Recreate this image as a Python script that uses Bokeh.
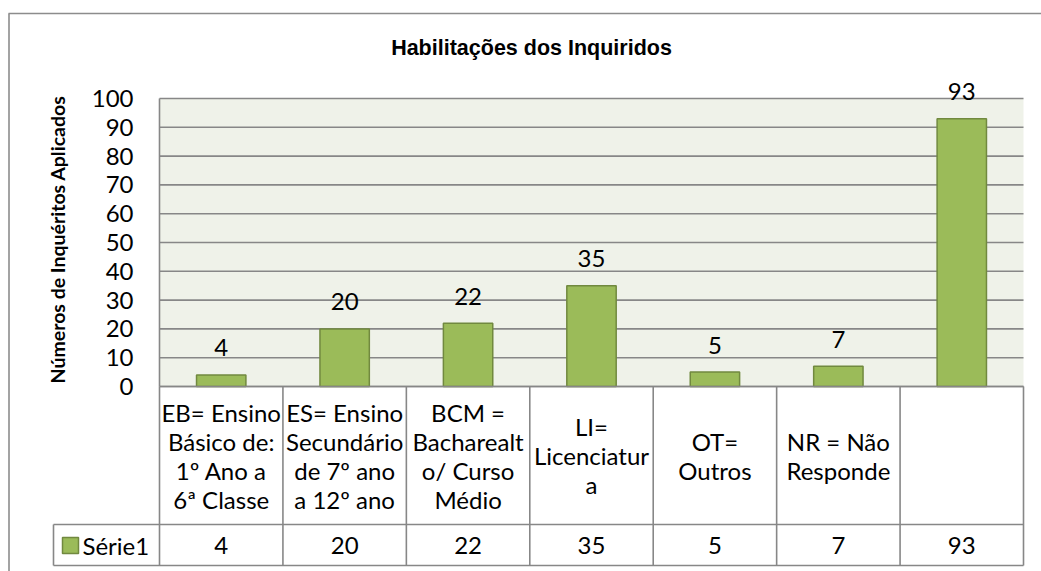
from bokeh.plotting import figure
from bokeh.models import Range1d
from bokeh.core.properties import value
from bokeh.embed import file_html
from bokeh.resources import INLINE

# ---------------- data ----------------
chart_title = "Habilitações dos Inquiridos"
y_title = "Números de Inquéritos Aplicados"
series_name = "Série1"
categories = [
    "EB= Ensino\nBásico de:\n1º Ano a\n6ª Classe",
    "ES= Ensino\nSecundário\nde 7º ano\na 12º ano",
    "BCM =\nBacharealt\no/ Curso\nMédio",
    "LI=\nLicenciatur\na",
    "OT=\nOutros",
    "NR = Não\nResponde",
    "",
]
values = [4, 20, 22, 35, 5, 7, 93]
y_ticks = [0, 10, 20, 30, 40, 50, 60, 70, 80, 90, 100]

# ---------------- geometry (page pixels) ----------------
W, H = 1041, 571
ORG = 0                   # page position of the canvas origin
PX0, PX1 = 159, 1023      # plot area left / right
PY0, PY100 = 386, 98      # y of value 0 / value 100
n = len(values)
ux = (PX1 - PX0) / n
uy = (PY0 - PY100) / (y_ticks[-1] - y_ticks[0])


def X(px):
    return (px - PX0) / ux


def Y(py):
    return (PY0 - py) / uy


BODY = value("Lato")
GRID_C = "#878787"
BAR_FILL = "#9BBB59"
BAR_LINE = "#71893F"

p = figure(width=W, height=H, x_range=Range1d(X(ORG), X(ORG + W)),
           y_range=Range1d(Y(ORG + H), Y(ORG)), output_backend="svg",
           toolbar_location=None, min_border=0, x_axis_location=None,
           y_axis_location=None, outline_line_color=None)
p.xgrid.visible = False
p.ygrid.visible = False
p.background_fill_color = "white"
p.border_fill_color = "white"

# plot area background
p.quad(left=[0], right=[n], bottom=[y_ticks[0]], top=[y_ticks[-1]],
       fill_color="#EFF2E9", line_color=None)
# horizontal grid lines
p.segment(x0=[0] * len(y_ticks), x1=[n] * len(y_ticks), y0=y_ticks, y1=y_ticks,
          line_color=GRID_C, line_width=1.6)

# bars
xs = [i + 0.5 for i in range(n)]
p.vbar(x=xs, top=values, bottom=0, width=0.4, fill_color=BAR_FILL,
       line_color=BAR_LINE, line_width=1.5)
# data labels
p.text(x=xs, y=values, text=[str(v) for v in values], y_offset=-27,
       text_align="center", text_baseline="middle", text_font=BODY,
       text_font_size="24px", text_color="black")

# y tick labels
p.text(x=[X(133)] * len(y_ticks), y=y_ticks, text=[str(t) for t in y_ticks],
       text_align="right", text_baseline="middle", text_font=BODY,
       text_font_size="24px", text_color="black")

# y axis title
p.text(x=[X(57)], y=[Y(239)], text=[y_title], angle=1.5707963, text_align="center",
       text_baseline="middle", text_font=BODY, text_font_style="bold",
       text_font_size="19.5px", text_color="black")

# chart title
p.text(x=[X(531)], y=[Y(47)], text=[chart_title], text_align="center",
       text_baseline="middle", text_font=value("Liberation Sans"),
       text_font_style="bold", text_font_size="21.5px", text_color="black")

# ---------------- data table ----------------
T_HEAD_BOT = Y(524)
T_BOT = Y(565)
LEG_L = X(53)
# left axis line
p.segment(x0=[0], x1=[0], y0=[y_ticks[0]], y1=[y_ticks[-1]], line_color=GRID_C, line_width=1.6)
# horizontal table lines
p.segment(x0=[0, LEG_L, LEG_L], x1=[n, n, n], y0=[0, T_HEAD_BOT, T_BOT],
          y1=[0, T_HEAD_BOT, T_BOT], line_color=GRID_C, line_width=1.6)
# vertical table lines
vx = list(range(n + 1))
p.segment(x0=vx, x1=vx, y0=[0] * len(vx), y1=[T_BOT] * len(vx),
          line_color=GRID_C, line_width=1.6)
p.segment(x0=[LEG_L], x1=[LEG_L], y0=[T_HEAD_BOT], y1=[T_BOT],
          line_color=GRID_C, line_width=1.6)

# category labels (multi-line)
lx, ly, lt = [], [], []
LINE_H = 29
for i, cat in enumerate(categories):
    lines = cat.split("\n") if cat else []
    m = len(lines)
    for k, s in enumerate(lines):
        lx.append(i + 0.5)
        ly.append(Y(455 + (k - (m - 1) / 2) * LINE_H))
        lt.append(s)
p.text(x=lx, y=ly, text=lt, text_align="center", text_baseline="middle",
       text_font=BODY, text_font_size="24px", text_color="black")

# value row
p.text(x=xs, y=[Y(545)] * n, text=[str(v) for v in values], text_align="center",
       text_baseline="middle", text_font=BODY, text_font_size="24px", text_color="black")

# legend key + series name
p.quad(left=[X(62)], right=[X(78)], top=[Y(537)], bottom=[Y(553)],
       fill_color=BAR_FILL, line_color=BAR_LINE, line_width=1.5)
p.text(x=[X(82)], y=[Y(545)], text=[series_name], text_align="left",
       text_baseline="middle", text_font=BODY, text_font_size="24px", text_color="black")

# outer chart border (left and top)
p.segment(x0=[X(8.5), X(8)], x1=[X(8.5), X(ORG + W)], y0=[Y(13), Y(13)],
          y1=[Y(ORG + H), Y(13)], line_color="#8C8C8C", line_width=1.6)

open("out.html", "w").write(file_html(p, INLINE))
